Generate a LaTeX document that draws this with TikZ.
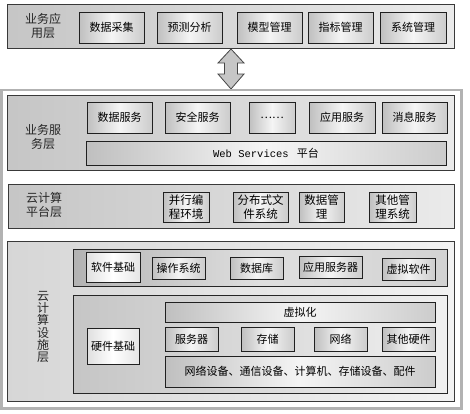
\documentclass[tikz,border=0pt]{standalone}
\usepackage{fontspec}
\setmainfont{Noto Sans CJK SC}
\newfontfamily\monof{Liberation Mono}
\begin{document}
\begin{tikzpicture}[x=1pt,y=-1pt,
  layerbox/.style={draw=gray!45!black, line width=0.9pt, left color=gray!45, right color=gray!16, inner sep=0pt},
  lightlayer/.style={draw=gray!45!black, line width=0.9pt, left color=gray!32, right color=gray!10, inner sep=0pt},
  subdark/.style={draw=gray!30!black, line width=1pt, left color=gray!60, right color=gray!35, middle color=gray!25, inner sep=0pt},
  sublight/.style={draw=gray!30!black, line width=1pt, left color=gray!45, right color=gray!12, inner sep=0pt},
  cell/.style={draw=gray!25!black, line width=1pt, left color=gray!50, right color=gray!40, middle color=gray!8, inner sep=0pt, font=\fontsize{11}{13}\selectfont, align=center},
  whitecell/.style={cell, left color=gray!25, right color=gray!20, middle color=white},
  two/.style={cell, font=\fontsize{11.5}{13.5}\selectfont},
  lbl/.style={font=\fontsize{12}{14.5}\selectfont, align=center, inner sep=0pt, text=black!85},
  frame/.style={draw=gray!60, line width=2.5pt},
  bigarrow/.style={draw=gray!55!black, line width=0.8pt, fill=gray!45}
]
\useasboundingbox (0,0) rectangle (470,413);
\fill[white] (0,0) rectangle (470,413);

% layer 1
\node[layerbox, minimum width=447pt, minimum height=44pt] (L1) at (230.5,26) {};
\node[lbl] (L1t) at (43,26) {业务应\\用层};
\node[cell, minimum width=65pt, minimum height=31pt] (a1) at (111.5,27.5) {数据采集};
\node[cell, minimum width=65pt, minimum height=31pt] (a2) at (189.5,27.5) {预测分析};
\node[cell, minimum width=65pt, minimum height=31pt] (a3) at (269.5,27.5) {模型管理};
\node[cell, minimum width=65pt, minimum height=31pt] (a4) at (340.5,27.5) {指标管理};
\node[cell, minimum width=66pt, minimum height=31pt] (a5) at (413,27.5) {系统管理};

% double arrow
\draw[bigarrow] (231,49) -- (244,63) -- (237.5,63) -- (237.5,74) -- (244,74) -- (231,89)
  -- (218,74) -- (224.5,74) -- (224.5,63) -- (218,63) -- cycle;

% outer frame
\draw[frame] (1.5,90) rectangle (461.5,408.5);

% layer 2
\node[layerbox, minimum width=447pt, minimum height=75pt] (L2) at (230.5,132.5) {};
\node[lbl] (L2t) at (43,137) {业务服\\务层};
\node[cell, minimum width=65pt, minimum height=31pt] (b1) at (119.5,117.5) {数据服务};
\node[cell, minimum width=65pt, minimum height=31pt] (b2) at (197.5,117.5) {安全服务};
\node[cell, minimum width=46pt, minimum height=31pt] (b3) at (272,117.5) {……};
\node[cell, minimum width=66pt, minimum height=31pt] (b4) at (342,117.5) {应用服务};
\node[cell, minimum width=65pt, minimum height=31pt] (b5) at (414.5,117.5) {消息服务};
\node[cell, minimum width=360pt, minimum height=24pt] (web) at (266,153) {{\monof\fontsize{10.5}{12}\selectfont Web Services\ }\,平台};

% layer 3
\node[layerbox, minimum width=446pt, minimum height=44pt] (L3) at (231,206) {};
\node[lbl] (L3t) at (44,205) {云计算\\平台层};
\node[two, minimum width=46pt, minimum height=30pt] (c1) at (186,207) {并行编\\程环境};
\node[two, minimum width=55pt, minimum height=30pt] (c2) at (260.5,207) {分布式文\\件系统};
\node[two, minimum width=45pt, minimum height=30pt] (c3) at (321.5,207) {数据管\\理};
\node[two, minimum width=47pt, minimum height=30pt] (c4) at (392.5,207) {其他管\\理系统};

% layer 4
\node[lightlayer, minimum width=447pt, minimum height=160pt] (L4) at (230.5,321) {};
\node[lbl, font=\fontsize{12}{12.3}\selectfont] (L4t) at (43,327) {云\\计\\算\\设\\施\\层};

\node[subdark, minimum width=374pt, minimum height=37pt] (sw) at (260,267.5) {};
\node[whitecell, minimum width=54pt, minimum height=30pt] (d1) at (113,267) {软件基础};
\node[cell, minimum width=53pt, minimum height=22pt] (d2) at (178.5,268) {操作系统};
\node[cell, minimum width=53pt, minimum height=22pt] (d3) at (256.5,268) {数据库};
\node[cell, minimum width=63pt, minimum height=22pt] (d4) at (330.5,267) {应用服务器};
\node[cell, minimum width=53pt, minimum height=22pt] (d5) at (408.5,269) {虚拟软件};

\node[sublight, minimum width=374pt, minimum height=98pt] (hwbox) at (260,344) {};
\node[cell, minimum width=270pt, minimum height=20pt] (e0) at (300,312) {虚拟化};
\node[cell, minimum width=53pt, minimum height=24pt] (e1) at (191.5,339) {服务器};
\node[cell, minimum width=53pt, minimum height=24pt] (e2) at (267.5,339) {存储};
\node[cell, minimum width=53pt, minimum height=24pt] (e3) at (340.5,339) {网络};
\node[cell, minimum width=53pt, minimum height=24pt] (e4) at (408.5,339) {其他硬件};
\node[whitecell, minimum width=52pt, minimum height=36pt] (hw) at (113,346) {硬件基础};
\node[cell, minimum width=270pt, minimum height=31pt] (e5) at (300,371.5) {网络设备、通信设备、计算机、存储设备、配件};
\end{tikzpicture}
\end{document}
